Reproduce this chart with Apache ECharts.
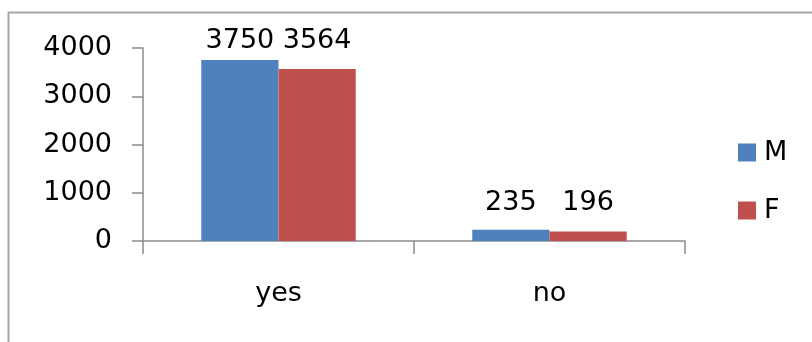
<!DOCTYPE html>
<html>
<head>
<meta charset="utf-8">
<style>
  html, body { margin: 0; padding: 0; background: #fff; }
  #chart { width: 812px; height: 342px; }
</style>
<script src="https://cdn.jsdelivr.net/npm/echarts@6/dist/echarts.min.js"></script>
</head>
<body>
<div id="chart"></div>
<script>
// Answer counts by sex
const categories = ['yes', 'no'];
const maleValues = [3750, 235];
const femaleValues = [3564, 196];
const yTicks = [0, 1000, 2000, 3000, 4000];

const FONT = 'DejaVu Sans';
const FONT_SIZE = 27;
const AXIS_COLOR = '#8c8c8c';

const chart = echarts.init(document.getElementById('chart'), null, { renderer: 'canvas' });

// label distances above each bar, per category
const maleLabelGap = [6, 13];
const femaleLabelGap = [15, 15];

function barData(values, gaps) {
  return values.map((v, i) => ({ value: v, label: { distance: gaps[i] } }));
}

chart.setOption({
  animation: false,
  backgroundColor: '#ffffff',
  textStyle: { fontFamily: FONT },
  graphic: [{
    type: 'rect',
    shape: { x: 8.5, y: 12.5, width: 820, height: 340 },
    style: { fill: 'none', stroke: '#a6a6a6', lineWidth: 2 },
    silent: true
  }],
  grid: { left: 143, right: 127, top: 48, bottom: 101, containLabel: false },
  legend: {
    orient: 'vertical',
    left: 733,
    top: 134,
    itemWidth: 18,
    itemHeight: 18,
    itemGap: 31,
    icon: 'rect',
    textStyle: { fontFamily: FONT, fontSize: FONT_SIZE, color: '#000', padding: [0, 0, 0, 3] },
    data: ['M', 'F']
  },
  xAxis: {
    type: 'category',
    data: categories,
    axisLine: { lineStyle: { color: AXIS_COLOR, width: 1.5 } },
    axisTick: { show: true, length: 13, alignWithLabel: false, lineStyle: { color: AXIS_COLOR, width: 1.5 } },
    axisLabel: { fontFamily: FONT, fontSize: FONT_SIZE, color: '#000', margin: 39 }
  },
  yAxis: {
    type: 'value',
    min: yTicks[0],
    max: yTicks[yTicks.length - 1],
    interval: yTicks[1] - yTicks[0],
    splitLine: { show: false },
    axisLine: { show: true, lineStyle: { color: AXIS_COLOR, width: 1.5 } },
    axisTick: { show: true, length: 11, lineStyle: { color: AXIS_COLOR, width: 1.5 } },
    axisLabel: {
      fontFamily: FONT, fontSize: FONT_SIZE, color: '#000', margin: 31,
      formatter: (v) => String(v)
    }
  },
  series: [
    {
      name: 'M',
      type: 'bar',
      data: barData(maleValues, maleLabelGap),
      barGap: '0%',
      barCategoryGap: '43%',
      itemStyle: { color: '#4f81bd' },
      label: { show: true, position: 'top', fontFamily: FONT, fontSize: FONT_SIZE, color: '#000' }
    },
    {
      name: 'F',
      type: 'bar',
      data: barData(femaleValues, femaleLabelGap),
      barGap: '0%',
      barCategoryGap: '43%',
      itemStyle: { color: '#c0504d' },
      label: { show: true, position: 'top', fontFamily: FONT, fontSize: FONT_SIZE, color: '#000' }
    }
  ]
});
</script>
</body>
</html>
